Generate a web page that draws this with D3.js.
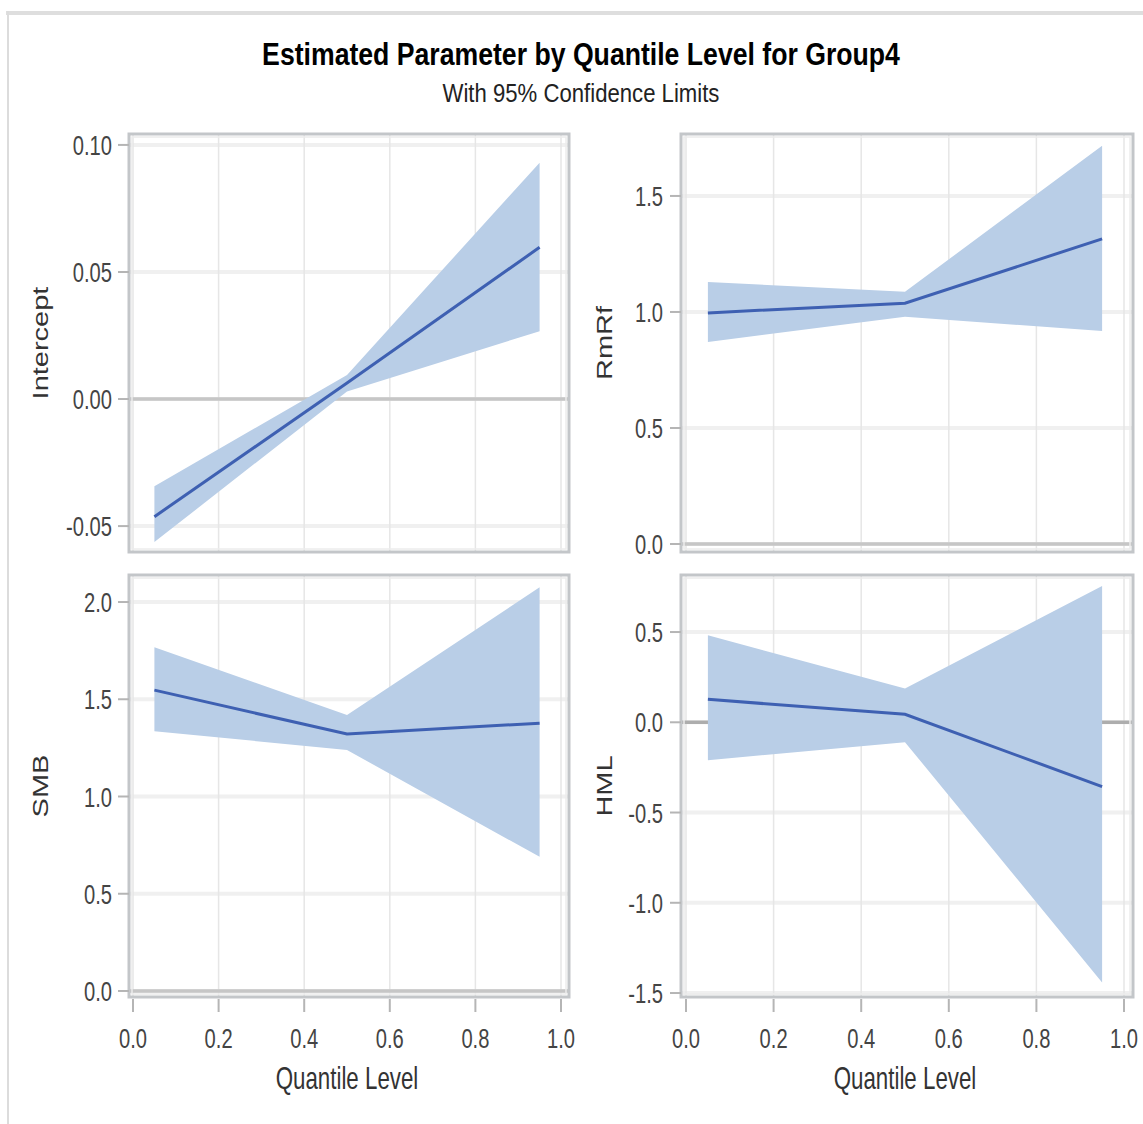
<!DOCTYPE html>
<html>
<head>
<meta charset="utf-8">
<script src="https://cdn.jsdelivr.net/npm/d3@7"></script>
<style>
  html, body { margin: 0; padding: 0; background: #fff; }
  svg { display: block; }
  text { font-family: "Liberation Sans", Arial, sans-serif; }
</style>
</head>
<body>
<svg id="chart" width="1143" height="1124"></svg>
<script>
// ---------------- DATA ----------------
const quantiles = [0.05, 0.5, 0.95];

const interceptEst   = [-0.0463, 0.0063, 0.0597];
const interceptLower = [-0.0563, 0.0030, 0.0267];
const interceptUpper = [-0.0343, 0.0095, 0.0930];

const rmrfEst   = [0.996, 1.038, 1.315];
const rmrfLower = [0.871, 0.979, 0.918];
const rmrfUpper = [1.129, 1.087, 1.716];

const smbEst   = [1.547, 1.321, 1.377];
const smbLower = [1.336, 1.239, 0.690];
const smbUpper = [1.768, 1.419, 2.076];

const hmlEst   = [0.127, 0.044, -0.356];
const hmlLower = [-0.210, -0.110, -1.442];
const hmlUpper = [0.482, 0.187, 0.755];

const xTicks = [0, 0.2, 0.4, 0.6, 0.8, 1.0];
const interceptTicks = [-0.05, 0, 0.05, 0.10];
const rmrfTicks = [0, 0.5, 1.0, 1.5];
const smbTicks = [0, 0.5, 1.0, 1.5, 2.0];
const hmlTicks = [-1.5, -1.0, -0.5, 0, 0.5];

const titleText = "Estimated Parameter by Quantile Level for Group4";
const subtitleText = "With 95% Confidence Limits";
const xLabelText = "Quantile Level";

// ---------------- LAYOUT ----------------
const svg = d3.select("#chart");
const BAND = "#b9cee7", LINE = "#3e60b2";
const SX = 0.72; // horizontal compression of glyphs
const fmtNum = f => v => d3.format(f)(v).replace("\u2212", "-");

const panels = [
  {name: "Intercept", est: interceptEst, lo: interceptLower, hi: interceptUpper, ticks: interceptTicks, fmt: ".2f",
   frame: {x0: 129, x1: 569, y0: 134, y1: 552}, xr: [133, 561], yd: [-0.0602, 0.1043], labelX: 48, tickLabelX: 112, xAxis: false, refColor: "#c6c6c6"},
  {name: "RmRf", est: rmrfEst, lo: rmrfLower, hi: rmrfUpper, ticks: rmrfTicks, fmt: ".1f",
   frame: {x0: 681, x1: 1133, y0: 134, y1: 552}, xr: [686, 1124], yd: [-0.0345, 1.767], labelX: 612, tickLabelX: 663, xAxis: false, refColor: "#c6c6c6"},
  {name: "SMB", est: smbEst, lo: smbLower, hi: smbUpper, ticks: smbTicks, fmt: ".1f",
   frame: {x0: 129, x1: 569, y0: 575, y1: 997}, xr: [133, 561], yd: [-0.031, 2.139], labelX: 48, tickLabelX: 112, xAxis: true, refColor: "#c6c6c6"},
  {name: "HML", est: hmlEst, lo: hmlLower, hi: hmlUpper, ticks: hmlTicks, fmt: ".1f",
   frame: {x0: 681, x1: 1133, y0: 575, y1: 997}, xr: [686, 1124], yd: [-1.522, 0.816], labelX: 612, tickLabelX: 663, xAxis: true, refColor: "#adadad"}
];

// outer frame
svg.append("line").attr("x1", 6).attr("x2", 1143).attr("y1", 13).attr("y2", 13)
  .attr("stroke", "#dedede").attr("stroke-width", 4);
svg.append("line").attr("x1", 8).attr("x2", 8).attr("y1", 11).attr("y2", 1124)
  .attr("stroke", "#dcdcdc").attr("stroke-width", 2);

function hText(parent, x, y, str, size, anchor, fill, weight, sx) {
  const g = parent.append("g").attr("transform", `translate(${x},${y}) scale(${sx},1)`);
  return g.append("text").attr("text-anchor", anchor).attr("font-size", size)
    .attr("fill", fill).attr("font-weight", weight || "normal").text(str);
}
function fitText(parent, cx, y, str, size, weight, fill, targetW) {
  const g = parent.append("g");
  const t = g.append("text").attr("text-anchor", "middle").attr("font-size", size)
    .attr("font-weight", weight).attr("fill", fill).text(str);
  const w = t.node().getComputedTextLength();
  g.attr("transform", `translate(${cx},${y}) scale(${targetW / w},1)`);
}

// titles
fitText(svg, 581, 65, titleText, 31, "bold", "#000", 638);
fitText(svg, 581, 102, subtitleText, 25, "normal", "#222", 277);

panels.forEach(p => {
  const f = p.frame;
  const x = d3.scaleLinear().domain([0, 1]).range(p.xr);
  const y = d3.scaleLinear().domain(p.yd).range([f.y1, f.y0]);
  const g = svg.append("g");

  const clipId = "clip-" + p.name;
  svg.append("clipPath").attr("id", clipId).append("rect")
    .attr("x", f.x0).attr("y", f.y0).attr("width", f.x1 - f.x0).attr("height", f.y1 - f.y0);

  // gridlines
  g.selectAll(".ygrid").data(p.ticks).join("line")
    .attr("x1", f.x0).attr("x2", f.x1).attr("y1", d => y(d)).attr("y2", d => y(d))
    .attr("stroke", "#f0f0f0").attr("stroke-width", 4);
  g.selectAll(".xgrid").data(xTicks).join("line")
    .attr("x1", d => x(d)).attr("x2", d => x(d)).attr("y1", f.y0).attr("y2", f.y1)
    .attr("stroke", "#e6e6e6").attr("stroke-width", 1.5);

  // reference line at 0
  g.append("line").attr("x1", f.x0).attr("x2", f.x1).attr("y1", y(0)).attr("y2", y(0))
    .attr("stroke", p.refColor).attr("stroke-width", 3.5);

  const pts = quantiles.map((q, i) => ({q, est: p.est[i], lo: p.lo[i], hi: p.hi[i]}));
  const area = d3.area().x(d => x(d.q)).y0(d => y(d.lo)).y1(d => y(d.hi));
  const line = d3.line().x(d => x(d.q)).y(d => y(d.est));
  const cg = g.append("g").attr("clip-path", `url(#${clipId})`);
  cg.append("path").attr("d", area(pts)).attr("fill", BAND);
  cg.append("path").attr("d", line(pts)).attr("fill", "none").attr("stroke", LINE).attr("stroke-width", 3);

  // frame
  g.append("rect").attr("x", f.x0).attr("y", f.y0).attr("width", f.x1 - f.x0).attr("height", f.y1 - f.y0)
    .attr("fill", "none").attr("stroke", "#c3c6c9").attr("stroke-width", 3);
  g.append("rect").attr("x", f.x0 + 3).attr("y", f.y0 + 3).attr("width", f.x1 - f.x0 - 6).attr("height", f.y1 - f.y0 - 6)
    .attr("fill", "none").attr("stroke", "#ececec").attr("stroke-width", 1.5);

  // y ticks
  g.selectAll(".ytick").data(p.ticks).join("line")
    .attr("x1", f.x0 - 11).attr("x2", f.x0).attr("y1", d => y(d)).attr("y2", d => y(d))
    .attr("stroke", "#b5b5b5").attr("stroke-width", 2);
  const yf = fmtNum(p.fmt);
  p.ticks.forEach(t => {
    hText(g, p.tickLabelX, y(t) + 10, yf(t), 28, "end", "#444", "normal", SX);
  });

  // y label (rotated)
  const lg = g.append("g").attr("transform",
    `translate(${p.labelX},${(f.y0 + f.y1) / 2}) rotate(-90) scale(1,0.78)`);
  lg.append("text").attr("text-anchor", "middle").attr("font-size", 29).attr("fill", "#333").text(p.name);

  if (p.xAxis) {
    g.selectAll(".xtick").data(xTicks).join("line")
      .attr("x1", d => x(d)).attr("x2", d => x(d)).attr("y1", f.y1 + 2).attr("y2", f.y1 + 15)
      .attr("stroke", "#b5b5b5").attr("stroke-width", 2);
    const xf = fmtNum(".1f");
    xTicks.forEach(t => {
      hText(g, x(t), 1048, xf(t), 28, "middle", "#444", "normal", SX);
    });
    hText(g, (p.xr[0] + p.xr[1]) / 2, 1089, xLabelText, 31, "middle", "#333", "normal", SX);
  }
});
</script>
</body>
</html>
